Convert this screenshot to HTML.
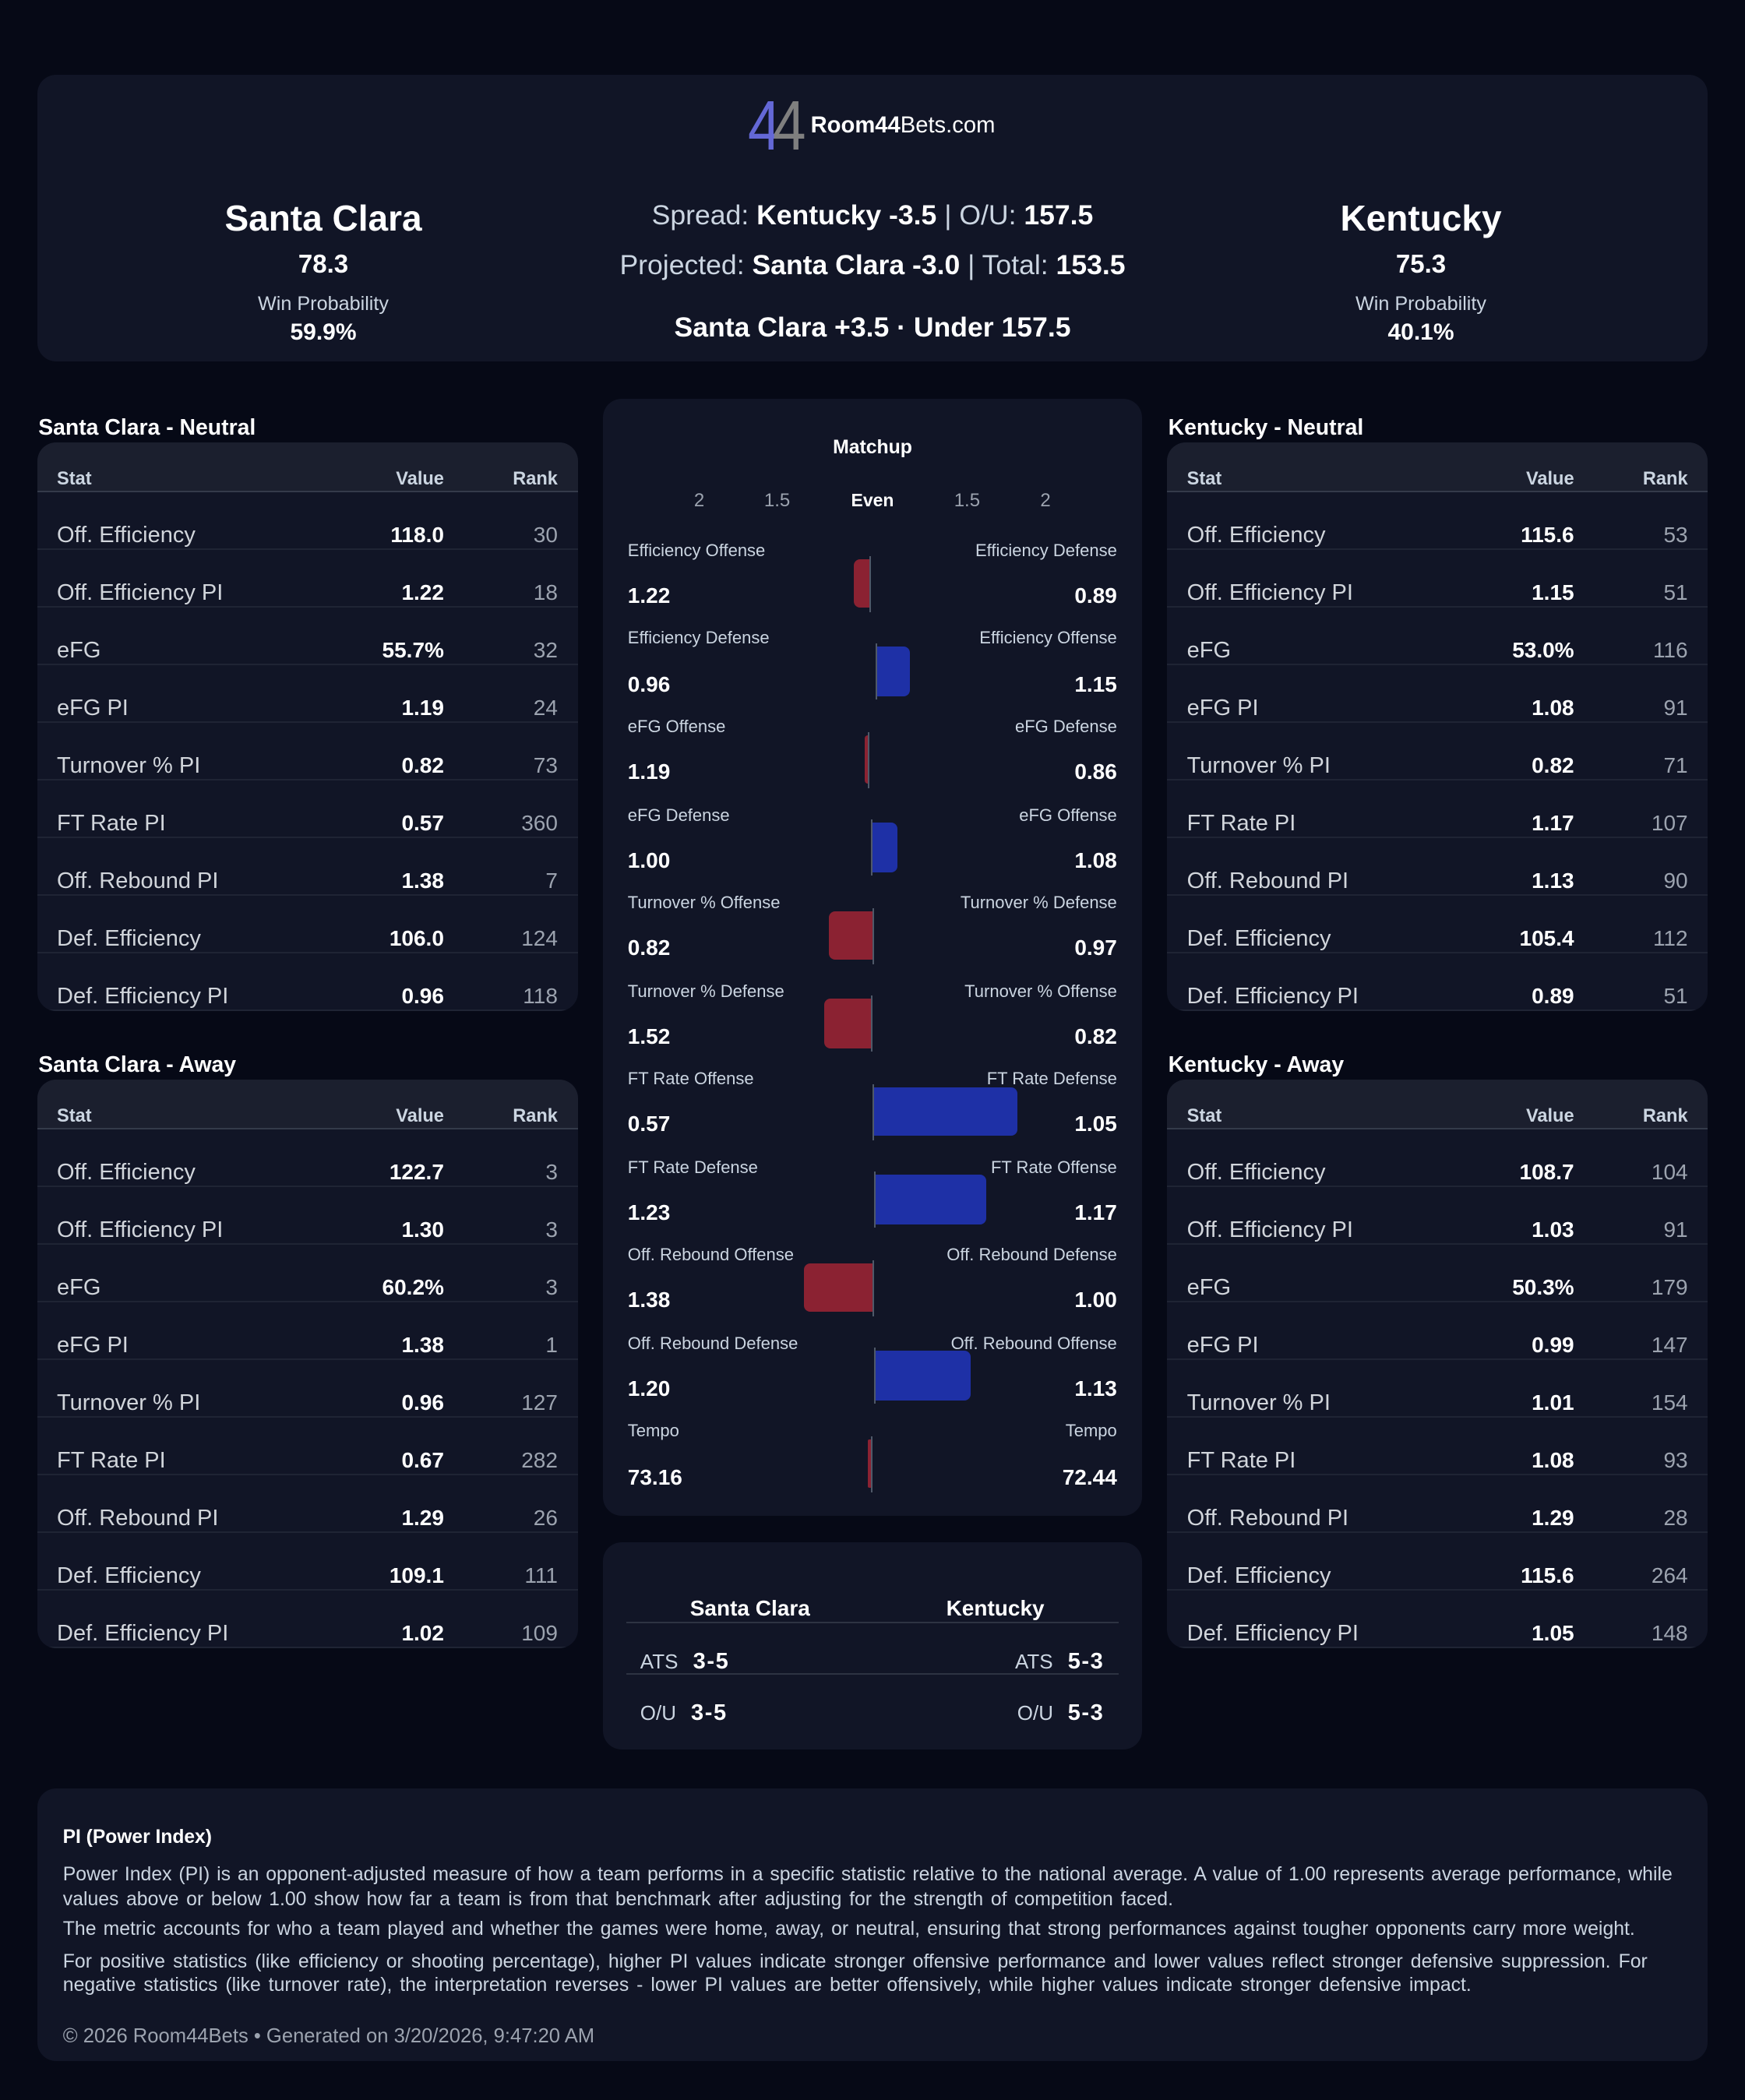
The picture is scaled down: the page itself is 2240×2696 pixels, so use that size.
<!DOCTYPE html>
<html>
<head>
<meta charset="utf-8">
<style>
html,body{margin:0;padding:0;}
body{width:2240px;height:2696px;overflow:hidden;background:#060916;font-family:"Liberation Sans",Arial,sans-serif;}
#w{position:absolute;left:0;top:0;width:1120px;height:1348px;transform:scale(2);transform-origin:0 0;background:#060916;}
.a{position:absolute;line-height:1;white-space:nowrap;}
.c{transform:translateX(-50%);}
.card{position:absolute;background:#111526;border-radius:12px;overflow:hidden;}
.b{font-weight:700;color:#fff;}
.g{color:#cbd5e1;}
.tbl{width:346.67px;height:365px;}
.th{position:absolute;left:0;top:0;width:100%;height:31px;background:#1b1f2e;border-bottom:1px solid #343a4a;}
.hs{position:absolute;top:18px;line-height:1;font-size:11.8px;font-weight:700;color:#cbd5e1;white-space:nowrap;}
.row{position:absolute;left:0;width:100%;height:36px;border-bottom:1px solid #1f2434;}
.lb{position:absolute;left:12.5px;top:20.7px;font-size:14.5px;line-height:1;color:#d1d5db;white-space:nowrap;}
.vl{position:absolute;right:85.7px;top:19.65px;font-size:14px;line-height:1;font-weight:700;color:#fff;white-space:nowrap;}
.rk{position:absolute;right:12.7px;top:19.65px;font-size:14px;line-height:1;color:#9ca3af;white-space:nowrap;}
.st{font-size:14.2px;font-weight:700;color:#fff;}
.ml{font-size:11px;color:#cbd5e1;margin-top:1.5px;}
.mv{font-size:14px;font-weight:700;color:#fff;}
.bar{position:absolute;height:31.6px;}
.red{background:#8b2232;border-radius:4px 0 0 4px;}
.blue{background:#1e30a6;border-radius:0 4px 4px 0;}
.ln{position:absolute;width:1.2px;height:36px;background:#4f5868;}
.ax{font-size:12px;color:#9ca3af;}
.p{position:absolute;left:40.4px;font-size:12.4px;line-height:1;color:#cbd5e1;text-align:justify;text-align-last:justify;}
</style>
</head>
<body>
<div id="w">

<!-- Header card -->
<div class="card" style="left:24px;top:48px;width:1072px;height:184px;"></div>
<div class="a" style="left:479.5px;top:57.7px;font-size:45px;color:#6468d6;transform:scaleX(0.85);transform-origin:0 0;">4</div>
<div class="a" style="left:496px;top:57.7px;font-size:45px;color:#7f7f7f;transform:scaleX(0.85);transform-origin:0 0;">4</div>
<div class="a" style="left:520.3px;top:74px;font-size:14.6px;color:#fff;"><b>Room44</b>Bets.com</div>

<div class="a c b" style="left:207.5px;top:128.8px;font-size:23px;">Santa Clara</div>
<div class="a c b" style="left:207.5px;top:161.8px;font-size:16.5px;">78.3</div>
<div class="a c g" style="left:207.5px;top:189px;font-size:12.6px;">Win Probability</div>
<div class="a c b" style="left:207.5px;top:206px;font-size:15px;">59.9%</div>

<div class="a c b" style="left:912px;top:128.8px;font-size:23px;">Kentucky</div>
<div class="a c b" style="left:912px;top:161.8px;font-size:16.5px;">75.3</div>
<div class="a c g" style="left:912px;top:189px;font-size:12.6px;">Win Probability</div>
<div class="a c b" style="left:912px;top:206px;font-size:15px;">40.1%</div>

<div class="a c g" style="left:560px;top:130px;font-size:17.8px;">Spread: <span class="b">Kentucky -3.5</span> | O/U: <span class="b">157.5</span></div>
<div class="a c g" style="left:560px;top:161.5px;font-size:17.8px;">Projected: <span class="b">Santa Clara -3.0</span> | Total: <span class="b">153.5</span></div>
<div class="a c b" style="left:560px;top:201.5px;font-size:17.8px;">Santa Clara +3.5 · Under 157.5</div>

<!-- Section titles -->
<div class="a st" style="left:24.6px;top:268px;">Santa Clara - Neutral</div>
<div class="a st" style="left:24.6px;top:677px;">Santa Clara - Away</div>
<div class="a st" style="left:749.8px;top:268px;">Kentucky - Neutral</div>
<div class="a st" style="left:749.8px;top:677px;">Kentucky - Away</div>

<!-- Santa Clara Neutral -->
<div class="card tbl" style="left:24px;top:284px;">
<div class="th"></div>
<div class="hs" style="left:12.5px;">Stat</div><div class="hs" style="right:85.7px;">Value</div><div class="hs" style="right:12.7px;">Rank</div>
<div class="row" style="top:32px;"><span class="lb">Off. Efficiency</span><span class="vl">118.0</span><span class="rk">30</span></div>
<div class="row" style="top:69px;"><span class="lb">Off. Efficiency PI</span><span class="vl">1.22</span><span class="rk">18</span></div>
<div class="row" style="top:106px;"><span class="lb">eFG</span><span class="vl">55.7%</span><span class="rk">32</span></div>
<div class="row" style="top:143px;"><span class="lb">eFG PI</span><span class="vl">1.19</span><span class="rk">24</span></div>
<div class="row" style="top:180px;"><span class="lb">Turnover % PI</span><span class="vl">0.82</span><span class="rk">73</span></div>
<div class="row" style="top:217px;"><span class="lb">FT Rate PI</span><span class="vl">0.57</span><span class="rk">360</span></div>
<div class="row" style="top:254px;"><span class="lb">Off. Rebound PI</span><span class="vl">1.38</span><span class="rk">7</span></div>
<div class="row" style="top:291px;"><span class="lb">Def. Efficiency</span><span class="vl">106.0</span><span class="rk">124</span></div>
<div class="row" style="top:328px;"><span class="lb">Def. Efficiency PI</span><span class="vl">0.96</span><span class="rk">118</span></div>
</div>

<!-- Santa Clara Away -->
<div class="card tbl" style="left:24px;top:693.2px;">
<div class="th"></div>
<div class="hs" style="left:12.5px;">Stat</div><div class="hs" style="right:85.7px;">Value</div><div class="hs" style="right:12.7px;">Rank</div>
<div class="row" style="top:32px;"><span class="lb">Off. Efficiency</span><span class="vl">122.7</span><span class="rk">3</span></div>
<div class="row" style="top:69px;"><span class="lb">Off. Efficiency PI</span><span class="vl">1.30</span><span class="rk">3</span></div>
<div class="row" style="top:106px;"><span class="lb">eFG</span><span class="vl">60.2%</span><span class="rk">3</span></div>
<div class="row" style="top:143px;"><span class="lb">eFG PI</span><span class="vl">1.38</span><span class="rk">1</span></div>
<div class="row" style="top:180px;"><span class="lb">Turnover % PI</span><span class="vl">0.96</span><span class="rk">127</span></div>
<div class="row" style="top:217px;"><span class="lb">FT Rate PI</span><span class="vl">0.67</span><span class="rk">282</span></div>
<div class="row" style="top:254px;"><span class="lb">Off. Rebound PI</span><span class="vl">1.29</span><span class="rk">26</span></div>
<div class="row" style="top:291px;"><span class="lb">Def. Efficiency</span><span class="vl">109.1</span><span class="rk">111</span></div>
<div class="row" style="top:328px;"><span class="lb">Def. Efficiency PI</span><span class="vl">1.02</span><span class="rk">109</span></div>
</div>

<!-- Kentucky Neutral -->
<div class="card tbl" style="left:749.33px;top:284px;">
<div class="th"></div>
<div class="hs" style="left:12.5px;">Stat</div><div class="hs" style="right:85.7px;">Value</div><div class="hs" style="right:12.7px;">Rank</div>
<div class="row" style="top:32px;"><span class="lb">Off. Efficiency</span><span class="vl">115.6</span><span class="rk">53</span></div>
<div class="row" style="top:69px;"><span class="lb">Off. Efficiency PI</span><span class="vl">1.15</span><span class="rk">51</span></div>
<div class="row" style="top:106px;"><span class="lb">eFG</span><span class="vl">53.0%</span><span class="rk">116</span></div>
<div class="row" style="top:143px;"><span class="lb">eFG PI</span><span class="vl">1.08</span><span class="rk">91</span></div>
<div class="row" style="top:180px;"><span class="lb">Turnover % PI</span><span class="vl">0.82</span><span class="rk">71</span></div>
<div class="row" style="top:217px;"><span class="lb">FT Rate PI</span><span class="vl">1.17</span><span class="rk">107</span></div>
<div class="row" style="top:254px;"><span class="lb">Off. Rebound PI</span><span class="vl">1.13</span><span class="rk">90</span></div>
<div class="row" style="top:291px;"><span class="lb">Def. Efficiency</span><span class="vl">105.4</span><span class="rk">112</span></div>
<div class="row" style="top:328px;"><span class="lb">Def. Efficiency PI</span><span class="vl">0.89</span><span class="rk">51</span></div>
</div>

<!-- Kentucky Away -->
<div class="card tbl" style="left:749.33px;top:693.2px;">
<div class="th"></div>
<div class="hs" style="left:12.5px;">Stat</div><div class="hs" style="right:85.7px;">Value</div><div class="hs" style="right:12.7px;">Rank</div>
<div class="row" style="top:32px;"><span class="lb">Off. Efficiency</span><span class="vl">108.7</span><span class="rk">104</span></div>
<div class="row" style="top:69px;"><span class="lb">Off. Efficiency PI</span><span class="vl">1.03</span><span class="rk">91</span></div>
<div class="row" style="top:106px;"><span class="lb">eFG</span><span class="vl">50.3%</span><span class="rk">179</span></div>
<div class="row" style="top:143px;"><span class="lb">eFG PI</span><span class="vl">0.99</span><span class="rk">147</span></div>
<div class="row" style="top:180px;"><span class="lb">Turnover % PI</span><span class="vl">1.01</span><span class="rk">154</span></div>
<div class="row" style="top:217px;"><span class="lb">FT Rate PI</span><span class="vl">1.08</span><span class="rk">93</span></div>
<div class="row" style="top:254px;"><span class="lb">Off. Rebound PI</span><span class="vl">1.29</span><span class="rk">28</span></div>
<div class="row" style="top:291px;"><span class="lb">Def. Efficiency</span><span class="vl">115.6</span><span class="rk">264</span></div>
<div class="row" style="top:328px;"><span class="lb">Def. Efficiency PI</span><span class="vl">1.05</span><span class="rk">148</span></div>
</div>

<!-- Matchup card -->
<div class="card" style="left:386.67px;top:255.8px;width:346.67px;height:717.2px;"></div>
<div class="a c b" style="left:560px;top:281.3px;font-size:12.4px;">Matchup</div>
<div class="a c ax" style="left:448.8px;top:314.8px;">2</div>
<div class="a c ax" style="left:498.8px;top:314.8px;">1.5</div>
<div class="a c b" style="left:560px;top:316.8px;font-size:11.5px;">Even</div>
<div class="a c ax" style="left:620.7px;top:314.8px;">1.5</div>
<div class="a c ax" style="left:671px;top:314.8px;">2</div>

<!-- row 0 -->
<div class="a ml" style="left:402.9px;top:347.4px;">Efficiency Offense</div>
<div class="a ml" style="right:403.1px;top:347.4px;">Efficiency Defense</div>
<div class="a mv" style="left:402.9px;top:375.2px;">1.22</div>
<div class="a mv" style="right:403.1px;top:375.2px;">0.89</div>
<div class="bar red" style="left:548.2px;width:10.1px;top:358.6px;"></div>
<div class="ln" style="left:557.7px;top:356.6px;"></div>
<!-- row 1 -->
<div class="a ml" style="left:402.9px;top:403.9px;">Efficiency Defense</div>
<div class="a ml" style="right:403.1px;top:403.9px;">Efficiency Offense</div>
<div class="a mv" style="left:402.9px;top:431.7px;">0.96</div>
<div class="a mv" style="right:403.1px;top:431.7px;">1.15</div>
<div class="bar blue" style="left:562.3px;width:22px;top:415.1px;"></div>
<div class="ln" style="left:561.9px;top:413.1px;"></div>
<!-- row 2 -->
<div class="a ml" style="left:402.9px;top:460.5px;">eFG Offense</div>
<div class="a ml" style="right:403.1px;top:460.5px;">eFG Defense</div>
<div class="a mv" style="left:402.9px;top:488.2px;">1.19</div>
<div class="a mv" style="right:403.1px;top:488.2px;">0.86</div>
<div class="bar red" style="left:554.7px;width:3px;top:471.7px;border-radius:2px 0 0 2px;"></div>
<div class="ln" style="left:557.2px;top:469.7px;"></div>
<!-- row 3 -->
<div class="a ml" style="left:402.9px;top:517px;">eFG Defense</div>
<div class="a ml" style="right:403.1px;top:517px;">eFG Offense</div>
<div class="a mv" style="left:402.9px;top:544.7px;">1.00</div>
<div class="a mv" style="right:403.1px;top:544.7px;">1.08</div>
<div class="bar blue" style="left:559.7px;width:16.3px;top:528.2px;"></div>
<div class="ln" style="left:559.3px;top:526.2px;"></div>
<!-- row 4 -->
<div class="a ml" style="left:402.9px;top:573.5px;">Turnover % Offense</div>
<div class="a ml" style="right:403.1px;top:573.5px;">Turnover % Defense</div>
<div class="a mv" style="left:402.9px;top:601.3px;">0.82</div>
<div class="a mv" style="right:403.1px;top:601.3px;">0.97</div>
<div class="bar red" style="left:531.7px;width:28.6px;top:584.7px;"></div>
<div class="ln" style="left:559.8px;top:582.7px;"></div>
<!-- row 5 -->
<div class="a ml" style="left:402.9px;top:630.1px;">Turnover % Defense</div>
<div class="a ml" style="right:403.1px;top:630.1px;">Turnover % Offense</div>
<div class="a mv" style="left:402.9px;top:657.8px;">1.52</div>
<div class="a mv" style="right:403.1px;top:657.8px;">0.82</div>
<div class="bar red" style="left:529.3px;width:29.7px;top:641.3px;"></div>
<div class="ln" style="left:558.5px;top:639.3px;"></div>
<!-- row 6 -->
<div class="a ml" style="left:402.9px;top:686.6px;">FT Rate Offense</div>
<div class="a ml" style="right:403.1px;top:686.6px;">FT Rate Defense</div>
<div class="a mv" style="left:402.9px;top:714.3px;">0.57</div>
<div class="a mv" style="right:403.1px;top:714.3px;">1.05</div>
<div class="bar blue" style="left:560.3px;width:93px;top:697.8px;"></div>
<div class="ln" style="left:559.9px;top:695.8px;"></div>
<!-- row 7 -->
<div class="a ml" style="left:402.9px;top:743.1px;">FT Rate Defense</div>
<div class="a ml" style="right:403.1px;top:743.1px;">FT Rate Offense</div>
<div class="a mv" style="left:402.9px;top:770.9px;">1.23</div>
<div class="a mv" style="right:403.1px;top:770.9px;">1.17</div>
<div class="bar blue" style="left:561.3px;width:72px;top:754.3px;"></div>
<div class="ln" style="left:560.9px;top:752.3px;"></div>
<!-- row 8 -->
<div class="a ml" style="left:402.9px;top:799.6px;">Off. Rebound Offense</div>
<div class="a ml" style="right:403.1px;top:799.6px;">Off. Rebound Defense</div>
<div class="a mv" style="left:402.9px;top:827.4px;">1.38</div>
<div class="a mv" style="right:403.1px;top:827.4px;">1.00</div>
<div class="bar red" style="left:515.8px;width:44.2px;top:810.8px;"></div>
<div class="ln" style="left:559.5px;top:808.8px;"></div>
<!-- row 9 -->
<div class="a ml" style="left:402.9px;top:856.2px;">Off. Rebound Defense</div>
<div class="a ml" style="right:403.1px;top:856.2px;">Off. Rebound Offense</div>
<div class="a mv" style="left:402.9px;top:883.9px;">1.20</div>
<div class="a mv" style="right:403.1px;top:883.9px;">1.13</div>
<div class="bar blue" style="left:561px;width:62.3px;top:867.4px;"></div>
<div class="ln" style="left:560.6px;top:865.4px;"></div>
<!-- row 10 -->
<div class="a ml" style="left:402.9px;top:912.7px;">Tempo</div>
<div class="a ml" style="right:403.1px;top:912.7px;">Tempo</div>
<div class="a mv" style="left:402.9px;top:940.5px;">73.16</div>
<div class="a mv" style="right:403.1px;top:940.5px;">72.44</div>
<div class="bar red" style="left:557px;width:2px;top:923.9px;border-radius:1px 0 0 1px;"></div>
<div class="ln" style="left:558.5px;top:921.9px;"></div>

<!-- ATS card -->
<div class="card" style="left:386.67px;top:989.5px;width:346.67px;height:133.8px;"></div>
<div class="a c b" style="left:481.4px;top:1024.5px;font-size:14px;">Santa Clara</div>
<div class="a c b" style="left:638.8px;top:1024.5px;font-size:14px;">Kentucky</div>
<div style="position:absolute;left:402.4px;top:1041px;width:315.2px;height:1px;background:#2d3342;"></div>
<div class="a g" style="left:410.9px;top:1059.8px;font-size:13px;">ATS</div>
<div class="a b" style="left:444.8px;top:1059.5px;font-size:14.5px;letter-spacing:0.8px;">3-5</div>
<div class="a g" style="left:651.5px;top:1059.8px;font-size:13px;">ATS</div>
<div class="a b" style="right:411.3px;top:1059.5px;font-size:14.5px;letter-spacing:0.8px;">5-3</div>
<div style="position:absolute;left:402.4px;top:1073.8px;width:315.2px;height:1px;background:#2d3342;"></div>
<div class="a g" style="left:410.9px;top:1093.2px;font-size:13px;">O/U</div>
<div class="a b" style="left:443.5px;top:1092.9px;font-size:14.5px;letter-spacing:0.8px;">3-5</div>
<div class="a g" style="left:652.9px;top:1093.2px;font-size:13px;">O/U</div>
<div class="a b" style="right:411.3px;top:1092.9px;font-size:14.5px;letter-spacing:0.8px;">5-3</div>

<!-- Footer card -->
<div class="card" style="left:24px;top:1147.5px;width:1072px;height:175.8px;"></div>
<div class="a b" style="left:40.3px;top:1173px;font-size:12.3px;">PI (Power Index)</div>
<div class="p" style="top:1197px;width:1033px;">Power Index (PI) is an opponent-adjusted measure of how a team performs in a specific statistic relative to the national average. A value of 1.00 represents average performance, while</div>
<div class="p" style="top:1212.8px;width:712.6px;">values above or below 1.00 show how far a team is from that benchmark after adjusting for the strength of competition faced.</div>
<div class="p" style="top:1232.3px;width:1009px;">The metric accounts for who a team played and whether the games were home, away, or neutral, ensuring that strong performances against tougher opponents carry more weight.</div>
<div class="p" style="top:1252.5px;width:1017px;">For positive statistics (like efficiency or shooting percentage), higher PI values indicate stronger offensive performance and lower values reflect stronger defensive suppression. For</div>
<div class="p" style="top:1268.3px;width:904px;">negative statistics (like turnover rate), the interpretation reverses - lower PI values are better offensively, while higher values indicate stronger defensive impact.</div>
<div class="a" style="left:40.4px;top:1300.5px;font-size:12.8px;color:#9ca3af;">© 2026 Room44Bets • Generated on 3/20/2026, 9:47:20 AM</div>

</div>
</body>
</html>
